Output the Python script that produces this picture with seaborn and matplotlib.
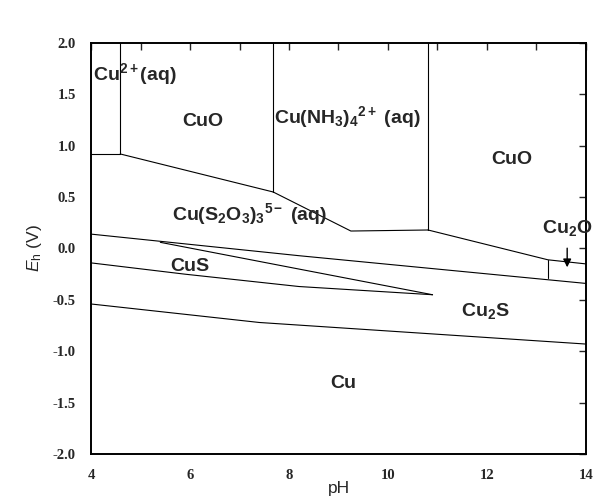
import numpy as np
import pandas as pd
import matplotlib
matplotlib.use("Agg")
import matplotlib.pyplot as plt
import seaborn as sns

# boundary lines of the Eh-pH diagram (pH, Eh in V)
cu2_cuo_ph = [4.59, 4.59]
cu2_cuo_eh = [2.0, 0.92]
cu2_thio_ph = [4.0, 4.59]
cu2_thio_eh = [0.92, 0.92]
cuo_thio_ph = [4.59, 7.68]
cuo_thio_eh = [0.92, 0.55]
cuo_nh3_ph = [7.68, 7.68]
cuo_nh3_eh = [2.0, 0.55]
nh3_thio_ph = [7.68, 9.25, 10.81]
nh3_thio_eh = [0.55, 0.17, 0.18]
nh3_cuo_ph = [10.81, 10.81]
nh3_cuo_eh = [2.0, 0.18]
cuo_low_ph = [10.81, 13.23, 14.0]
cuo_low_eh = [0.18, -0.11, -0.15]
cu2o_thio_ph = [13.23, 13.23]
cu2o_thio_eh = [-0.11, -0.29]
thio_cu2s_ph = [4.0, 8.2, 14.0]
thio_cu2s_eh = [0.14, -0.07, -0.34]
cus_top_ph = [5.4, 8.2, 10.9]
cus_top_eh = [0.06, -0.20, -0.45]
cus_bot_ph = [4.0, 5.9, 8.2, 10.9]
cus_bot_eh = [-0.14, -0.25, -0.37, -0.45]
cu2s_cu_ph = [4.0, 7.4, 14.0]
cu2s_cu_eh = [-0.54, -0.72, -0.93]

boundaries = {
    "cu2_cuo": (cu2_cuo_ph, cu2_cuo_eh),
    "cu2_thio": (cu2_thio_ph, cu2_thio_eh),
    "cuo_thio": (cuo_thio_ph, cuo_thio_eh),
    "cuo_nh3": (cuo_nh3_ph, cuo_nh3_eh),
    "nh3_thio": (nh3_thio_ph, nh3_thio_eh),
    "nh3_cuo": (nh3_cuo_ph, nh3_cuo_eh),
    "cuo_low": (cuo_low_ph, cuo_low_eh),
    "cu2o_thio": (cu2o_thio_ph, cu2o_thio_eh),
    "thio_cu2s": (thio_cu2s_ph, thio_cu2s_eh),
    "cus_top": (cus_top_ph, cus_top_eh),
    "cus_bot": (cus_bot_ph, cus_bot_eh),
    "cu2s_cu": (cu2s_cu_ph, cu2s_cu_eh),
}

# region labels and their positions
labels = [r"Cu$^{2+}$(aq)", "CuO", r"Cu(NH$_3$)$_4$$^{2+}$ (aq)", "CuO",
          r"Cu(S$_2$O$_3$)$_3$$^{5-}$ (aq)", "CuS", r"Cu$_2$S", "Cu"]
label_ph = [4.05, 6.26, 9.17, 12.5, 7.2, 6.0, 11.96, 9.1]
label_eh = [1.70, 1.24, 1.28, 0.87, 0.34, -0.18, -0.61, -1.31]
label_ha = ["left", "center", "center", "center", "center", "center", "center", "center"]

x_ticks = [4, 6, 8, 10, 12, 14]
y_ticks = [2.0, 1.5, 1.0, 0.5, 0.0, -0.5, -1.0, -1.5, -2.0]

sns.set_style("white")
plt.rcParams["axes.unicode_minus"] = False
plt.rcParams["mathtext.fontset"] = "custom"
plt.rcParams["mathtext.rm"] = "Liberation Sans:bold"
plt.rcParams["mathtext.bf"] = "Liberation Sans:bold"
plt.rcParams["mathtext.it"] = "Liberation Sans:italic"
plt.rcParams["mathtext.sf"] = "Liberation Sans"

rows = []
for name, (ph, eh) in boundaries.items():
    for p, e in zip(ph, eh):
        rows.append({"boundary": name, "pH": p, "Eh": e})
df = pd.DataFrame(rows)

fig = plt.figure(figsize=(5.96, 5.01), dpi=100)
ax = fig.add_axes([0.1527, 0.0938, 0.8305, 0.8204])

sns.lineplot(data=df, x="pH", y="Eh", units="boundary", estimator=None,
             sort=False, color="black", lw=0.8, ax=ax)

for txt, x, y, ha in zip(labels, label_ph, label_eh, label_ha):
    ax.text(x, y, txt, ha=ha, va="center", fontsize=14, fontweight="bold",
            family="Liberation Sans")

# Cu2O label with arrow
ax.annotate("", xy=(13.62, -0.21), xytext=(13.62, 0.03),
            arrowprops=dict(arrowstyle="-|>", color="black", lw=1.0,
                            mutation_scale=12))
ax.text(13.62, 0.2, r"Cu$_2$O", ha="center", va="center", fontsize=14,
        fontweight="bold", family="Liberation Sans")

ax.set_xlim(4, 14)
ax.set_ylim(-2.0, 2.0)
ax.set_xticks(x_ticks)
ax.set_xticks(np.arange(5, 14, 2), minor=True)
ax.set_yticks(y_ticks)
ax.set_xticklabels([str(t) for t in x_ticks])
ax.set_yticklabels([f"{t:.1f}" for t in y_ticks])
ax.tick_params(which="both", direction="in", top=True, right=True,
               length=5, width=1.0)
ax.tick_params(axis="y", pad=11)
ax.tick_params(axis="x", pad=11)
plt.setp(ax.get_xticklabels() + ax.get_yticklabels(), family="Liberation Serif",
         weight="bold", size=10.5)

for sp in ax.spines.values():
    sp.set_linewidth(1.4)
    sp.set_color("black")

ax.set_xlabel("pH", fontsize=12.5, family="Liberation Sans", labelpad=-1)
ax.set_ylabel(r"$\mathit{E}_\mathsf{h}$ (V)", fontsize=12.5,
              family="Liberation Sans", labelpad=6)

fig.savefig("out.png", dpi=100)
